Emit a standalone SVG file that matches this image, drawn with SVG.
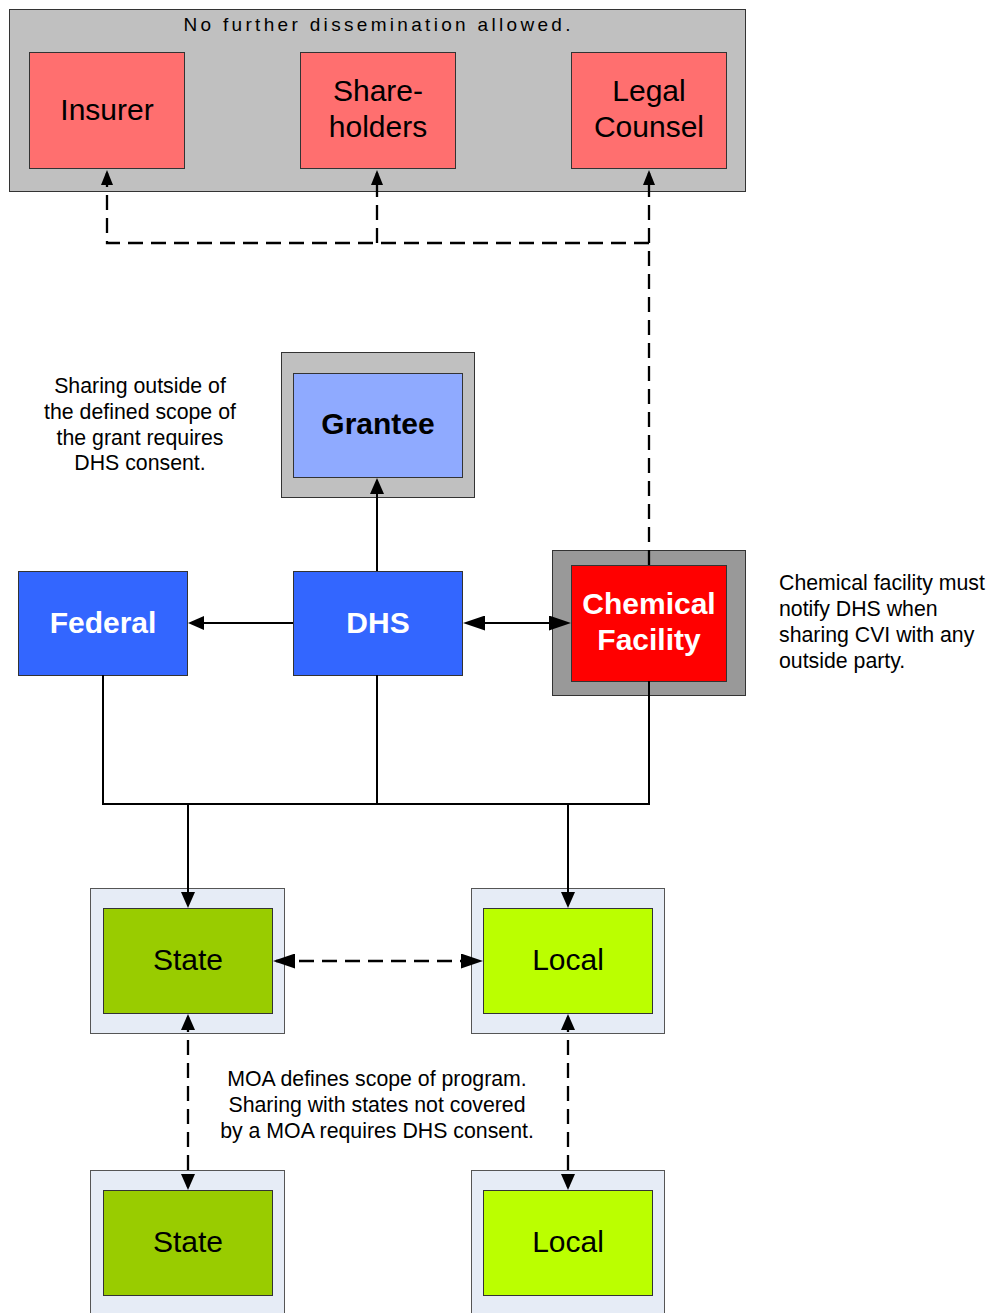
<svg xmlns="http://www.w3.org/2000/svg" width="992" height="1313" viewBox="0 0 992 1313">
<style>
.box{stroke:#333;stroke-width:1}
.lbl{font-family:"Liberation Sans",Arial,sans-serif;font-size:30px;text-anchor:middle;fill:#000}
.bold{font-weight:bold;fill:#fff}
.note{font-family:"Liberation Sans",Arial,sans-serif;font-size:21.3px;fill:#000}
.ln{fill:none;stroke:#000;stroke-width:2}
.dash{stroke-dasharray:15 8;stroke-width:2.3}
</style>
<defs>
<marker id="s" viewBox="0 0 16 14" refX="13" refY="7" markerWidth="16" markerHeight="14" markerUnits="userSpaceOnUse" orient="auto-start-reverse"><path d="M0,0 L16,7 L0,14 Z" fill="#000"/></marker>
<marker id="t" viewBox="0 0 15 12" refX="12" refY="6" markerWidth="15" markerHeight="12" markerUnits="userSpaceOnUse" orient="auto-start-reverse"><path d="M0,0 L15,6 L0,12 Z" fill="#000"/></marker>
<marker id="l" viewBox="0 0 22 15" refX="19" refY="7.5" markerWidth="22" markerHeight="15" markerUnits="userSpaceOnUse" orient="auto-start-reverse"><path d="M0,0 L22,7.5 L0,15 Z" fill="#000"/></marker>
</defs>
<rect width="992" height="1313" fill="#fff"/>

<g id="outside-parties">
<rect class="box" x="9.5" y="9.5" width="736" height="182" fill="#C0C0C0" stroke="#222"/>
<text x="377" y="31" font-family="Liberation Sans,Arial,sans-serif" font-size="19" text-anchor="middle" textLength="387" lengthAdjust="spacing">No further dissemination allowed.</text>
</g>
<g id="insurer">
<rect class="box" x="29.5" y="52.5" width="155" height="116" fill="#FF6F6F"/>
<text class="lbl" x="107" y="120">Insurer</text>
</g>
<g id="shareholders">
<rect class="box" x="300.5" y="52.5" width="155" height="116" fill="#FF6F6F"/>
<text class="lbl" x="378" y="101">Share-</text>
<text class="lbl" x="378" y="137">holders</text>
</g>
<g id="legal-counsel">
<rect class="box" x="571.5" y="52.5" width="155" height="116" fill="#FF6F6F"/>
<text class="lbl" x="649" y="101">Legal</text>
<text class="lbl" x="649" y="137">Counsel</text>
</g>

<g id="grantee">
<rect class="box" x="281.5" y="352.5" width="193" height="145" fill="#C0C0C0"/>
<rect class="box" x="293.5" y="373.5" width="169" height="104" fill="#8FAAFF"/>
<text class="lbl" x="378" y="434" font-weight="bold">Grantee</text>
</g>
<g id="federal">
<rect class="box" x="18.5" y="571.5" width="169" height="104" fill="#3366FF"/>
<text class="lbl bold" x="103" y="633">Federal</text>
</g>
<g id="dhs">
<rect class="box" x="293.5" y="571.5" width="169" height="104" fill="#3366FF"/>
<text class="lbl bold" x="378" y="633">DHS</text>
</g>
<g id="chemical-facility">
<rect class="box" x="552.5" y="550.5" width="193" height="145" fill="#999999"/>
<rect class="box" x="571.5" y="565.5" width="155" height="116" fill="#FF0000"/>
<text class="lbl bold" x="649" y="614">Chemical</text>
<text class="lbl bold" x="649" y="650">Facility</text>
</g>

<g id="state-1">
<rect x="90.5" y="888.5" width="194" height="145" fill="#E6ECF6" stroke="#555"/>
<rect class="box" x="103.5" y="908.5" width="169" height="105" fill="#99CC00"/>
<text class="lbl" x="188" y="970">State</text>
</g>
<g id="local-1">
<rect x="471.5" y="888.5" width="193" height="145" fill="#E6ECF6" stroke="#555"/>
<rect class="box" x="483.5" y="908.5" width="169" height="105" fill="#BBFF00"/>
<text class="lbl" x="568" y="970">Local</text>
</g>
<g id="state-2">
<rect x="90.5" y="1170.5" width="194" height="150" fill="#E6ECF6" stroke="#555"/>
<rect class="box" x="103.5" y="1190.5" width="169" height="105" fill="#99CC00"/>
<text class="lbl" x="188" y="1252">State</text>
</g>
<g id="local-2">
<rect x="471.5" y="1170.5" width="193" height="150" fill="#E6ECF6" stroke="#555"/>
<rect class="box" x="483.5" y="1190.5" width="169" height="105" fill="#BBFF00"/>
<text class="lbl" x="568" y="1252">Local</text>
</g>

<g id="notes">
<text class="note" text-anchor="middle"><tspan x="140" y="393">Sharing outside of</tspan><tspan x="140" y="419">the defined scope of</tspan><tspan x="140" y="445">the grant requires</tspan><tspan x="140" y="470">DHS consent.</tspan></text>
<text class="note"><tspan x="779" y="590">Chemical facility must</tspan><tspan x="779" y="616">notify DHS when</tspan><tspan x="779" y="642">sharing CVI with any</tspan><tspan x="779" y="668">outside party.</tspan></text>
<text class="note" text-anchor="middle"><tspan x="377" y="1086">MOA defines scope of program.</tspan><tspan x="377" y="1112">Sharing with states not covered</tspan><tspan x="377" y="1138">by a MOA requires DHS consent.</tspan></text>
</g>

<g id="connectors">
<path class="ln dash" d="M649,565 V173" marker-end="url(#t)"/>
<path class="ln dash" d="M649,243 H107 V173" marker-end="url(#t)"/>
<path class="ln dash" d="M377,243 V173" marker-end="url(#t)"/>
<path class="ln" d="M649,550 V565"/>
<path class="ln" d="M377,571 V481" marker-end="url(#s)"/>
<path class="ln" d="M293,623 H191" marker-end="url(#s)"/>
<path class="ln" d="M466,623 H568" marker-start="url(#l)" marker-end="url(#l)"/>
<path class="ln" d="M103,675 V804 H649 V681"/>
<path class="ln" d="M377,675 V804"/>
<path class="ln" d="M188,804 V905" marker-end="url(#s)"/>
<path class="ln" d="M568,804 V905" marker-end="url(#s)"/>
<path class="ln dash" d="M276,961 H480" marker-start="url(#l)" marker-end="url(#l)"/>
<path class="ln dash" d="M188,1017 V1187" marker-start="url(#s)" marker-end="url(#s)"/>
<path class="ln dash" d="M568,1017 V1187" marker-start="url(#s)" marker-end="url(#s)"/>
</g>
</svg>
